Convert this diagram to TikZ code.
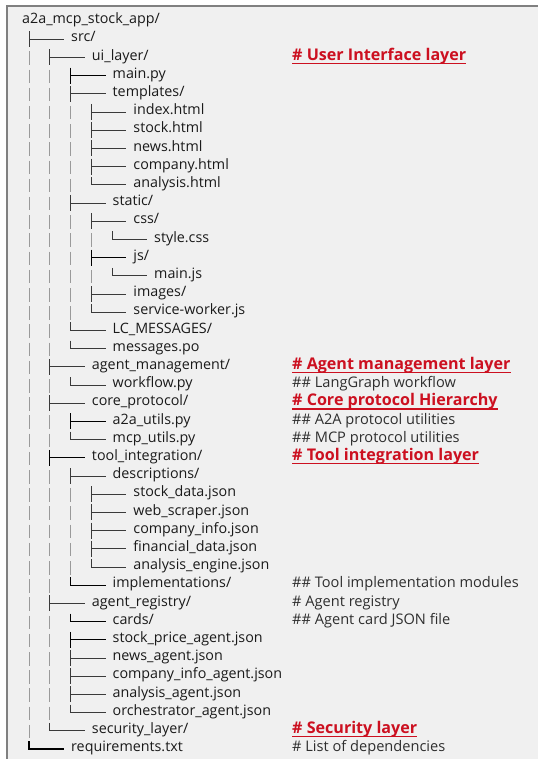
\documentclass[tikz,border=0pt]{standalone}
\usepackage{fontspec}
\setmainfont{Open Sans}
\definecolor{panel}{HTML}{F0F0F0}
\definecolor{framegray}{HTML}{808080}
\definecolor{ink}{HTML}{1A1A1A}
\definecolor{notegray}{HTML}{2E2E2E}
\definecolor{layerred}{HTML}{CC1020}
\definecolor{glyphgray}{HTML}{3A3A3A}
\definecolor{pipegray}{HTML}{9A9A9A}

% a branch entry: #1 extra line style, #2 row, #3 depth, #4 node name, #5 text
\newcommand\branchT[5][]{%
  \pgfmathsetmacro\ry{21+18.2*#2}%
  \pgfmathsetmacro\rx{29+20.75*#3}%
  \node[item] (#4) at (\rx+42,\ry) {#5};
  \draw[glyph,#1] (\rx,\ry-8) -- (\rx,\ry+8);
  \draw[glyph,#1,shorten >=7pt] (\rx,\ry) -- (#4.mid west);
}
\newcommand\branchL[5][]{%
  \pgfmathsetmacro\ry{21+18.2*#2}%
  \pgfmathsetmacro\rx{29+20.75*#3}%
  \node[item] (#4) at (\rx+42,\ry) {#5};
  \draw[glyph,#1,shorten >=7pt] (\rx,\ry-8) -- (\rx,\ry) -- (#4.mid west);
}
% continuation bars: #1 row, #2 list of depths
\newcommand\pipes[2]{%
  \foreach \d in {#2} {%
    \draw[pipe] ({29+20.75*\d},{21+18.2*#1-6}) -- ({29+20.75*\d},{21+18.2*#1+7.5});
  }%
}
% right-hand comments
\newcommand\note[3]{%
  \node[notetext] (#2) at (292,{21+18.2*#1}) {#3};
}
\newcommand\layer[3]{%
  \node[layertext] (#2) at (292,{21+18.2*#1}) {#3};
  \draw[layerred,line width=1.5pt] ([yshift=-3.2pt]#2.base west) -- ([yshift=-3.2pt]#2.base east);
}

\begin{document}
\begin{tikzpicture}[x=1pt,y=-1pt,
  item/.style={anchor=mid west,inner sep=0pt,text=ink,font=\fontsize{14.3}{16}\selectfont},
  notetext/.style={anchor=mid west,inner sep=0pt,text=notegray,font=\fontsize{14.6}{16}\selectfont},
  layertext/.style={anchor=mid west,inner sep=0pt,text=layerred,font=\fontsize{16.1}{18}\selectfont\bfseries},
  glyph/.style={draw=glyphgray,line width=0.8pt},
  boldglyph/.style={draw=black,line width=1.2pt},
  pipe/.style={draw=pipegray,line width=0.8pt}]
\useasboundingbox (0,0) rectangle (538,759);
\fill[white] (0,0) rectangle (538,759);
\fill[panel] (7,6) rectangle (538,759);
\draw[framegray,line width=2pt] (7,759) -- (7,6) -- (538,6);

\node[item] (root) at (22,21) {a2a\_mcp\_stock\_app/};

\branchT{1}{0}{src}{src/}
\branchT{2}{1}{ui}{ui\_layer/}                    \pipes{2}{0}
\branchT[boldglyph]{3}{2}{mainpy}{main.py}        \pipes{3}{0,1}
\branchT{4}{2}{templates}{templates/}             \pipes{4}{0,1}
\branchT{5}{3}{index}{index.html}                 \pipes{5}{0,1,2}
\branchT{6}{3}{stock}{stock.html}                 \pipes{6}{0,1,2}
\branchT{7}{3}{news}{news.html}                   \pipes{7}{0,1,2}
\branchT{8}{3}{company}{company.html}             \pipes{8}{0,1,2}
\branchL{9}{3}{analysis}{analysis.html}           \pipes{9}{0,1,2}
\branchT{10}{2}{static}{static/}                  \pipes{10}{0,1}
\branchT{11}{3}{css}{css/}                        \pipes{11}{0,1,2}
\branchL{12}{4}{style}{style.css}                 \pipes{12}{0,1,2,3}
\branchT[boldglyph]{13}{3}{js}{js/}               \pipes{13}{0,1,2}
\branchL{14}{4}{mainjs}{main.js}                  \pipes{14}{0,1,2,3}
\branchT{15}{3}{images}{images/}                  \pipes{15}{0,1,2}
\branchL{16}{3}{sw}{service-worker.js}            \pipes{16}{0,1,2}
\branchL{17}{2}{lc}{LC\_MESSAGES/}                \pipes{17}{0,1}
\branchL{18}{2}{po}{messages.po}                  \pipes{18}{0,1}
\branchT{19}{1}{agentmgmt}{agent\_management/}    \pipes{19}{0}
\branchL{20}{2}{workflow}{workflow.py}            \pipes{20}{0,1}
\branchT{21}{1}{core}{core\_protocol/}            \pipes{21}{0}
\branchT[boldglyph]{22}{2}{a2a}{a2a\_utils.py}    \pipes{22}{0,1}
\branchL{23}{2}{mcp}{mcp\_utils.py}               \pipes{23}{0,1}
\branchT[boldglyph]{24}{1}{tools}{tool\_integration/} \pipes{24}{0}
\branchT{25}{2}{desc}{descriptions/}              \pipes{25}{0,1}
\branchT{26}{3}{sdata}{stock\_data.json}          \pipes{26}{0,1,2}
\branchT{27}{3}{scraper}{web\_scraper.json}       \pipes{27}{0,1,2}
\branchT{28}{3}{cinfo}{company\_info.json}        \pipes{28}{0,1,2}
\branchT{29}{3}{fin}{financial\_data.json}        \pipes{29}{0,1,2}
\branchL{30}{3}{engine}{analysis\_engine.json}    \pipes{30}{0,1,2}
\branchL[boldglyph]{31}{2}{impl}{implementations/} \pipes{31}{0,1}
\branchT{32}{1}{registry}{agent\_registry/}       \pipes{32}{0}
\branchL[boldglyph]{33}{2}{cards}{cards/}         \pipes{33}{0,1}
\branchT[boldglyph]{34}{2}{spa}{stock\_price\_agent.json} \pipes{34}{0,1}
\branchT{35}{2}{newsag}{news\_agent.json}         \pipes{35}{0,1}
\branchT{36}{2}{ciag}{company\_info\_agent.json}  \pipes{36}{0,1}
\branchT{37}{2}{anag}{analysis\_agent.json}       \pipes{37}{0,1}
\branchL{38}{2}{orch}{orchestrator\_agent.json}   \pipes{38}{0,1}
\branchL{39}{1}{security}{security\_layer/}       \pipes{39}{0}
\branchL[boldglyph]{40}{0}{req}{requirements.txt}

\layer{2}{hui}{\# User Interface layer}
\layer{19}{hagent}{\# Agent management layer}
\note{20}{cworkflow}{\#\# LangGraph workflow}
\layer{21}{hcore}{\# Core protocol Hierarchy}
\note{22}{ca2a}{\#\# A2A protocol utilities}
\note{23}{cmcp}{\#\# MCP protocol utilities}
\layer{24}{htool}{\# Tool integration layer}
\note{31}{cimpl}{\#\# Tool implementation modules}
\note{32}{creg}{\# Agent registry}
\note{33}{ccards}{\#\# Agent card JSON file}
\layer{39}{hsec}{\# Security layer}
\note{40}{creq}{\# List of dependencies}
\end{tikzpicture}
\end{document}
